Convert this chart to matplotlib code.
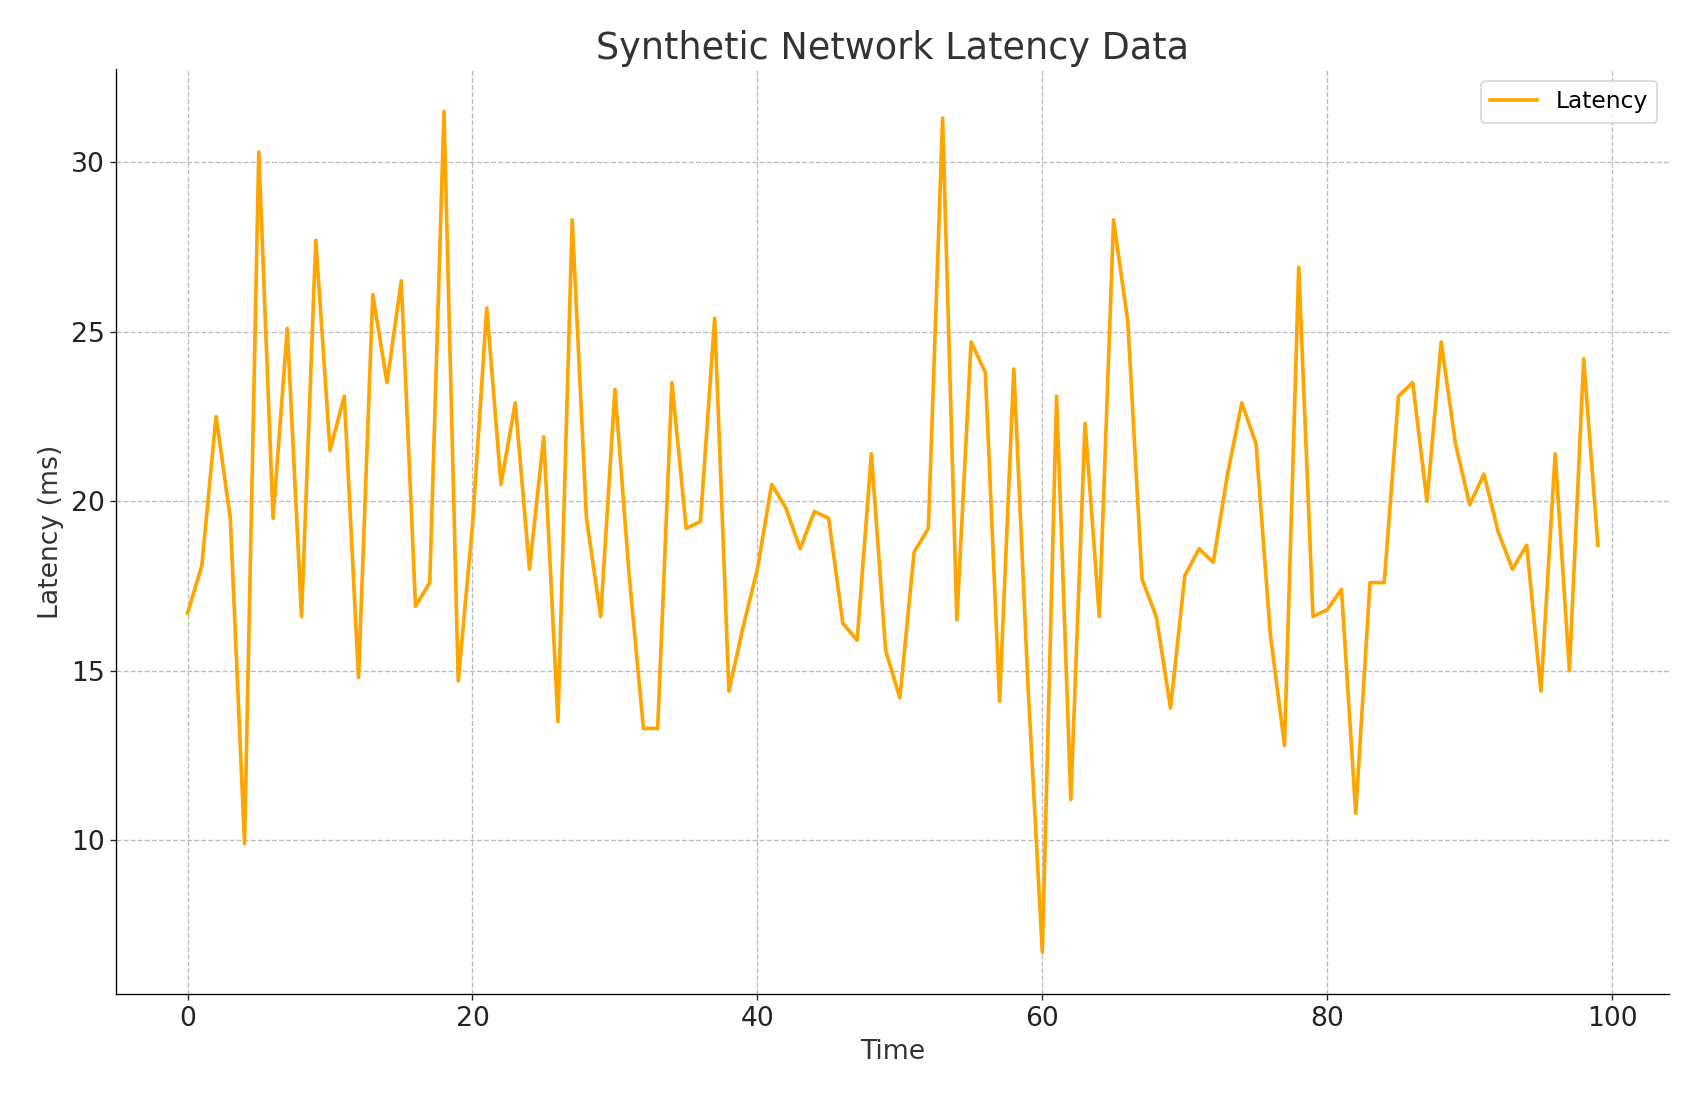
import matplotlib
matplotlib.use("Agg")
import matplotlib.pyplot as plt

time = list(range(100))
latency = [
    16.7, 18.1, 22.5, 19.5, 9.9, 30.3, 19.5, 25.1, 16.6, 27.7,
    21.5, 23.1, 14.8, 26.1, 23.5, 26.5, 16.9, 17.6, 31.5, 14.7,
    19.3, 25.7, 20.5, 22.9, 18.0, 21.9, 13.5, 28.3, 19.5, 16.6,
    23.3, 17.8, 13.3, 13.3, 23.5, 19.2, 19.4, 25.4, 14.4, 16.3,
    18.0, 20.5, 19.8, 18.6, 19.7, 19.5, 16.4, 15.9, 21.4, 15.6,
    14.2, 18.5, 19.2, 31.3, 16.5, 24.7, 23.8, 14.1, 23.9, 14.5,
    6.7, 23.1, 11.2, 22.3, 16.6, 28.3, 25.3, 17.7, 16.6, 13.9,
    17.8, 18.6, 18.2, 20.8, 22.9, 21.7, 16.1, 12.8, 26.9, 16.6,
    16.8, 17.4, 10.8, 17.6, 17.6, 23.1, 23.5, 20.0, 24.7, 21.7,
    19.9, 20.8, 19.1, 18.0, 18.7, 14.4, 21.4, 15.0, 24.2, 18.7,
]

fig, ax = plt.subplots(figsize=(14.05, 9.175), dpi=120)
ax.plot(time, latency, color="#FFA500", lw=2.2, label="Latency")
ax.set_title("Synthetic Network Latency Data", fontsize=22, color="#333333")
ax.set_xlabel("Time", fontsize=16, color="#333333")
ax.set_ylabel("Latency (ms)", fontsize=16, color="#333333")
ax.tick_params(labelsize=16, colors="#222222")
ax.grid(True, linestyle="--", color="#bbbbbb", lw=0.8)
ax.spines["top"].set_visible(False)
ax.spines["right"].set_visible(False)
ax.set_xlim(-5, 104)
ax.legend(loc="upper right", fontsize=14)
fig.subplots_adjust(left=0.069, right=0.99, top=0.937, bottom=0.097)
fig.savefig("out.png")
